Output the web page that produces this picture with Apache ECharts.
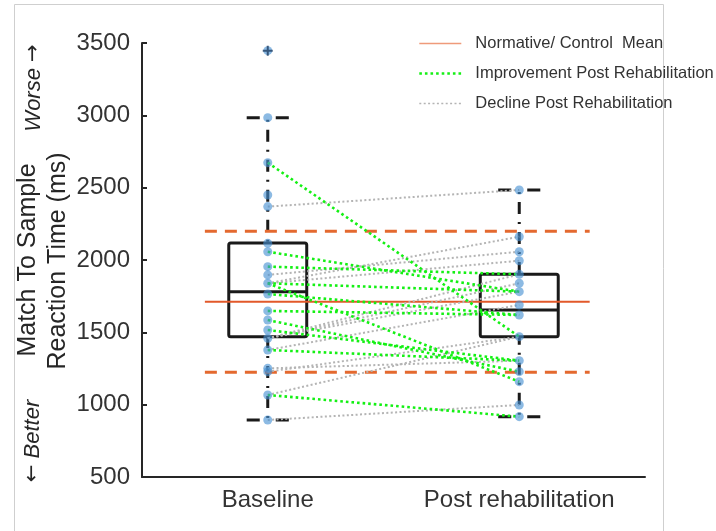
<!DOCTYPE html>
<html>
<head>
<meta charset="utf-8">
<script src="https://cdn.jsdelivr.net/npm/echarts@6/dist/echarts.min.js"></script>
<style>
  html, body { margin: 0; padding: 0; background: #fff; }
  #chart { width: 716px; height: 531px; }
</style>
</head>
<body>
<div id="chart"></div>
<script>
var FONT = '"Liberation Sans", Arial, sans-serif';

// data
var categories = ['Baseline', 'Post rehabilitation'];
var yMin = 500, yMax = 3500, yStep = 500;

// [min, q1, median, q3, max]
var baselineBox = [894, 1470, 1781, 2118, 2984];
var postBox = [917, 1470, 1654, 1901, 2484];
var baselineOutliers = [3447];

var baselinePoints = [2984, 2673, 2449, 2369, 2115, 2057, 1954, 1897, 1839, 1765,
  1648, 1585, 1516, 1459, 1378, 1251, 1228, 1067, 894];
var postPoints = [2484, 2161, 2057, 1995, 1901, 1839, 1781, 1689, 1620, 1470,
  1304, 1228, 1159, 998, 917];

// [baseline, post] per subject
var improvedPairs = [[2673, 1470], [2057, 1781], [1954, 1901], [1839, 1781], [1839, 1159],
  [1765, 1620], [1648, 1620], [1585, 1228], [1516, 1304], [1378, 1304], [1067, 917]];
var declinedPairs = [[2369, 2484], [1839, 2161], [1897, 2057], [1839, 1995], [1459, 1901],
  [1459, 1839], [1459, 1781], [1378, 1689], [1251, 1304], [1228, 1470], [1067, 1470], [894, 998]];

var normMean = 1712;
var normBand = [1224, 2198];
var normSpan = [0.75, 2.28];

var boxWidth = 0.31;   // in category units
var capRatio = 0.54;

var NAME_NORM = 'Normative/ Control  Mean';
var NAME_UP = 'Improvement Post Rehabilitation';
var NAME_DOWN = 'Decline Post Rehabilitation';

function renderBox(params, api) {
  var x = api.value(0);
  var lo = api.coord([x, api.value(1)]);
  var q1 = api.coord([x, api.value(2)]);
  var med = api.coord([x, api.value(3)]);
  var q3 = api.coord([x, api.value(4)]);
  var hi = api.coord([x, api.value(5)]);
  var cx = lo[0];
  var half = api.coord([x + boxWidth / 2, 0])[0] - cx;
  var cap = half * capRatio;
  var ink = '#1a1a1a';
  var dashDot = [12, 8, 2, 8];
  var capDash = [cap * 0.62, cap * 0.76, cap * 0.62, 200];
  return {
    type: 'group',
    children: [
      { type: 'line', shape: { x1: cx, y1: hi[1], x2: cx, y2: q3[1] },
        style: { stroke: ink, lineWidth: 3, lineDash: dashDot, lineDashOffset: -12 } },
      { type: 'line', shape: { x1: cx, y1: lo[1], x2: cx, y2: q1[1] },
        style: { stroke: ink, lineWidth: 3, lineDash: dashDot, lineDashOffset: -12 } },
      { type: 'line', shape: { x1: cx - cap, y1: hi[1], x2: cx + cap, y2: hi[1] },
        style: { stroke: ink, lineWidth: 3, lineDash: capDash } },
      { type: 'line', shape: { x1: cx - cap, y1: lo[1], x2: cx + cap, y2: lo[1] },
        style: { stroke: ink, lineWidth: 3, lineDash: capDash } },
      { type: 'rect', shape: { x: cx - half, y: q3[1], width: half * 2, height: q1[1] - q3[1], r: 2 },
        style: { fill: 'none', stroke: ink, lineWidth: 3 } },
      { type: 'line', shape: { x1: cx - half, y1: med[1], x2: cx + half, y2: med[1] },
        style: { stroke: ink, lineWidth: 3 } }
    ]
  };
}

function pairSeries(pairs, name, color, width, dash) {
  return pairs.map(function (p) {
    return {
      name: name,
      type: 'line',
      xAxisIndex: 1,
      symbol: 'none',
      silent: true,
      z: 4,
      itemStyle: { color: color },
      lineStyle: { color: color, width: width, type: dash },
      data: [[1, p[0]], [2, p[1]]]
    };
  });
}

var series = [
  {
    type: 'custom',
    xAxisIndex: 1,
    z: 2,
    renderItem: renderBox,
    encode: { x: 0, y: [1, 2, 3, 4, 5] },
    data: [[1].concat(baselineBox), [2].concat(postBox)]
  },
  {
    name: NAME_NORM,
    type: 'line',
    xAxisIndex: 1,
    symbol: 'none',
    z: 3,
    itemStyle: { color: '#e2592a' },
    lineStyle: { color: '#e2592a', width: 2 },
    data: [[normSpan[0], normMean], [normSpan[1], normMean]]
  }
];

normBand.forEach(function (v) {
  series.push({
    name: 'band',
    type: 'line',
    xAxisIndex: 1,
    symbol: 'none',
    z: 3,
    lineStyle: { color: '#e4692f', width: 3, type: [12, 8] },
    data: [[normSpan[0], v], [normSpan[1], v]]
  });
});

series = series.concat(pairSeries(declinedPairs, NAME_DOWN, '#b4b4b4', 2, [2, 2.4]));
series = series.concat(pairSeries(improvedPairs, NAME_UP, '#14f014', 2.6, [2.6, 3]));

series.push({
  type: 'scatter',
  xAxisIndex: 1,
  z: 5,
  symbolSize: 9,
  itemStyle: { color: 'rgba(70,145,210,0.78)' },
  data: baselinePoints.map(function (v) { return [1, v]; })
    .concat(postPoints.map(function (v) { return [2, v]; }))
    .concat(baselineOutliers.map(function (v) { return [1, v]; }))
});
series.push({
  type: 'scatter',
  xAxisIndex: 1,
  z: 6,
  symbol: 'path://M4,0h2v4h4v2h-4v4h-2v-4h-4v-2h4z',
  symbolSize: 10,
  itemStyle: { color: '#1f3f63' },
  data: baselineOutliers.map(function (v) { return [1, v]; })
});

var noSymbol = { opacity: 0 };
var arrowRich = { a: { fontFamily: '"DejaVu Sans"', fontSize: 21, fontStyle: 'normal', fill: '#262626' } };

var chart = echarts.init(document.getElementById('chart'));
chart.setOption({
  animation: false,
  backgroundColor: '#fff',
  textStyle: { fontFamily: FONT },
  grid: { left: 142, right: 71, top: 43, bottom: 54 },
  legend: {
    orient: 'vertical',
    left: 413,
    top: 30,
    itemWidth: 42,
    itemHeight: 14,
    itemGap: 13,
    selectedMode: false,
    textStyle: { fontSize: 16.5, color: '#333', fontFamily: FONT, padding: [0, 0, 0, 9] },
    data: [
      { name: NAME_NORM, itemStyle: noSymbol, lineStyle: { width: 1.3, color: '#ef9a7a' } },
      { name: NAME_UP, itemStyle: noSymbol, lineStyle: { width: 2.6 } },
      { name: NAME_DOWN, itemStyle: noSymbol, lineStyle: { width: 1.5 } }
    ]
  },
  xAxis: [
    {
      type: 'category',
      data: categories,
      boundaryGap: true,
      axisLine: { lineStyle: { color: '#262626', width: 2 } },
      axisTick: { inside: true, alignWithLabel: true, length: 5, lineStyle: { color: '#262626', width: 2 } },
      axisLabel: { fontSize: 24, color: '#333', margin: 11, fontFamily: FONT },
      splitLine: { show: false }
    },
    { type: 'value', min: 0.5, max: 2.5, show: false }
  ],
  yAxis: {
    type: 'value',
    min: yMin,
    max: yMax,
    interval: yStep,
    axisLine: { show: true, lineStyle: { color: '#262626', width: 2 } },
    axisTick: { show: true, inside: true, length: 5, lineStyle: { color: '#262626', width: 2 } },
    axisLabel: { fontSize: 24, color: '#333', margin: 12, fontFamily: FONT,
      formatter: function (v) { return String(v); } },
    splitLine: { show: false }
  },
  graphic: [
    { type: 'rect', silent: true, z: -1, shape: { x: 14.5, y: 4.5, width: 649, height: 600 },
      style: { fill: 'none', stroke: '#cfcfcf', lineWidth: 1 } },
    { type: 'text', x: 28, y: 260, rotation: Math.PI / 2,
      style: { text: 'Match To Sample', fontSize: 25, fontFamily: FONT, fill: '#262626', align: 'center', verticalAlign: 'middle' } },
    { type: 'text', x: 58, y: 261, rotation: Math.PI / 2,
      style: { text: 'Reaction Time (ms)', fontSize: 25, fontFamily: FONT, fill: '#262626', align: 'center', verticalAlign: 'middle' } },
    { type: 'text', x: 34, y: 88, rotation: Math.PI / 2,
      style: { text: 'Worse {a|\u2192}', rich: arrowRich, fontSize: 22, fontStyle: 'italic', fontFamily: FONT, fill: '#262626', align: 'center', verticalAlign: 'middle' } },
    { type: 'text', x: 33, y: 441, rotation: Math.PI / 2,
      style: { text: '{a|\u2190} Better', rich: arrowRich, fontSize: 22, fontStyle: 'italic', fontFamily: FONT, fill: '#262626', align: 'center', verticalAlign: 'middle' } }
  ],
  series: series
});
</script>
</body>
</html>
